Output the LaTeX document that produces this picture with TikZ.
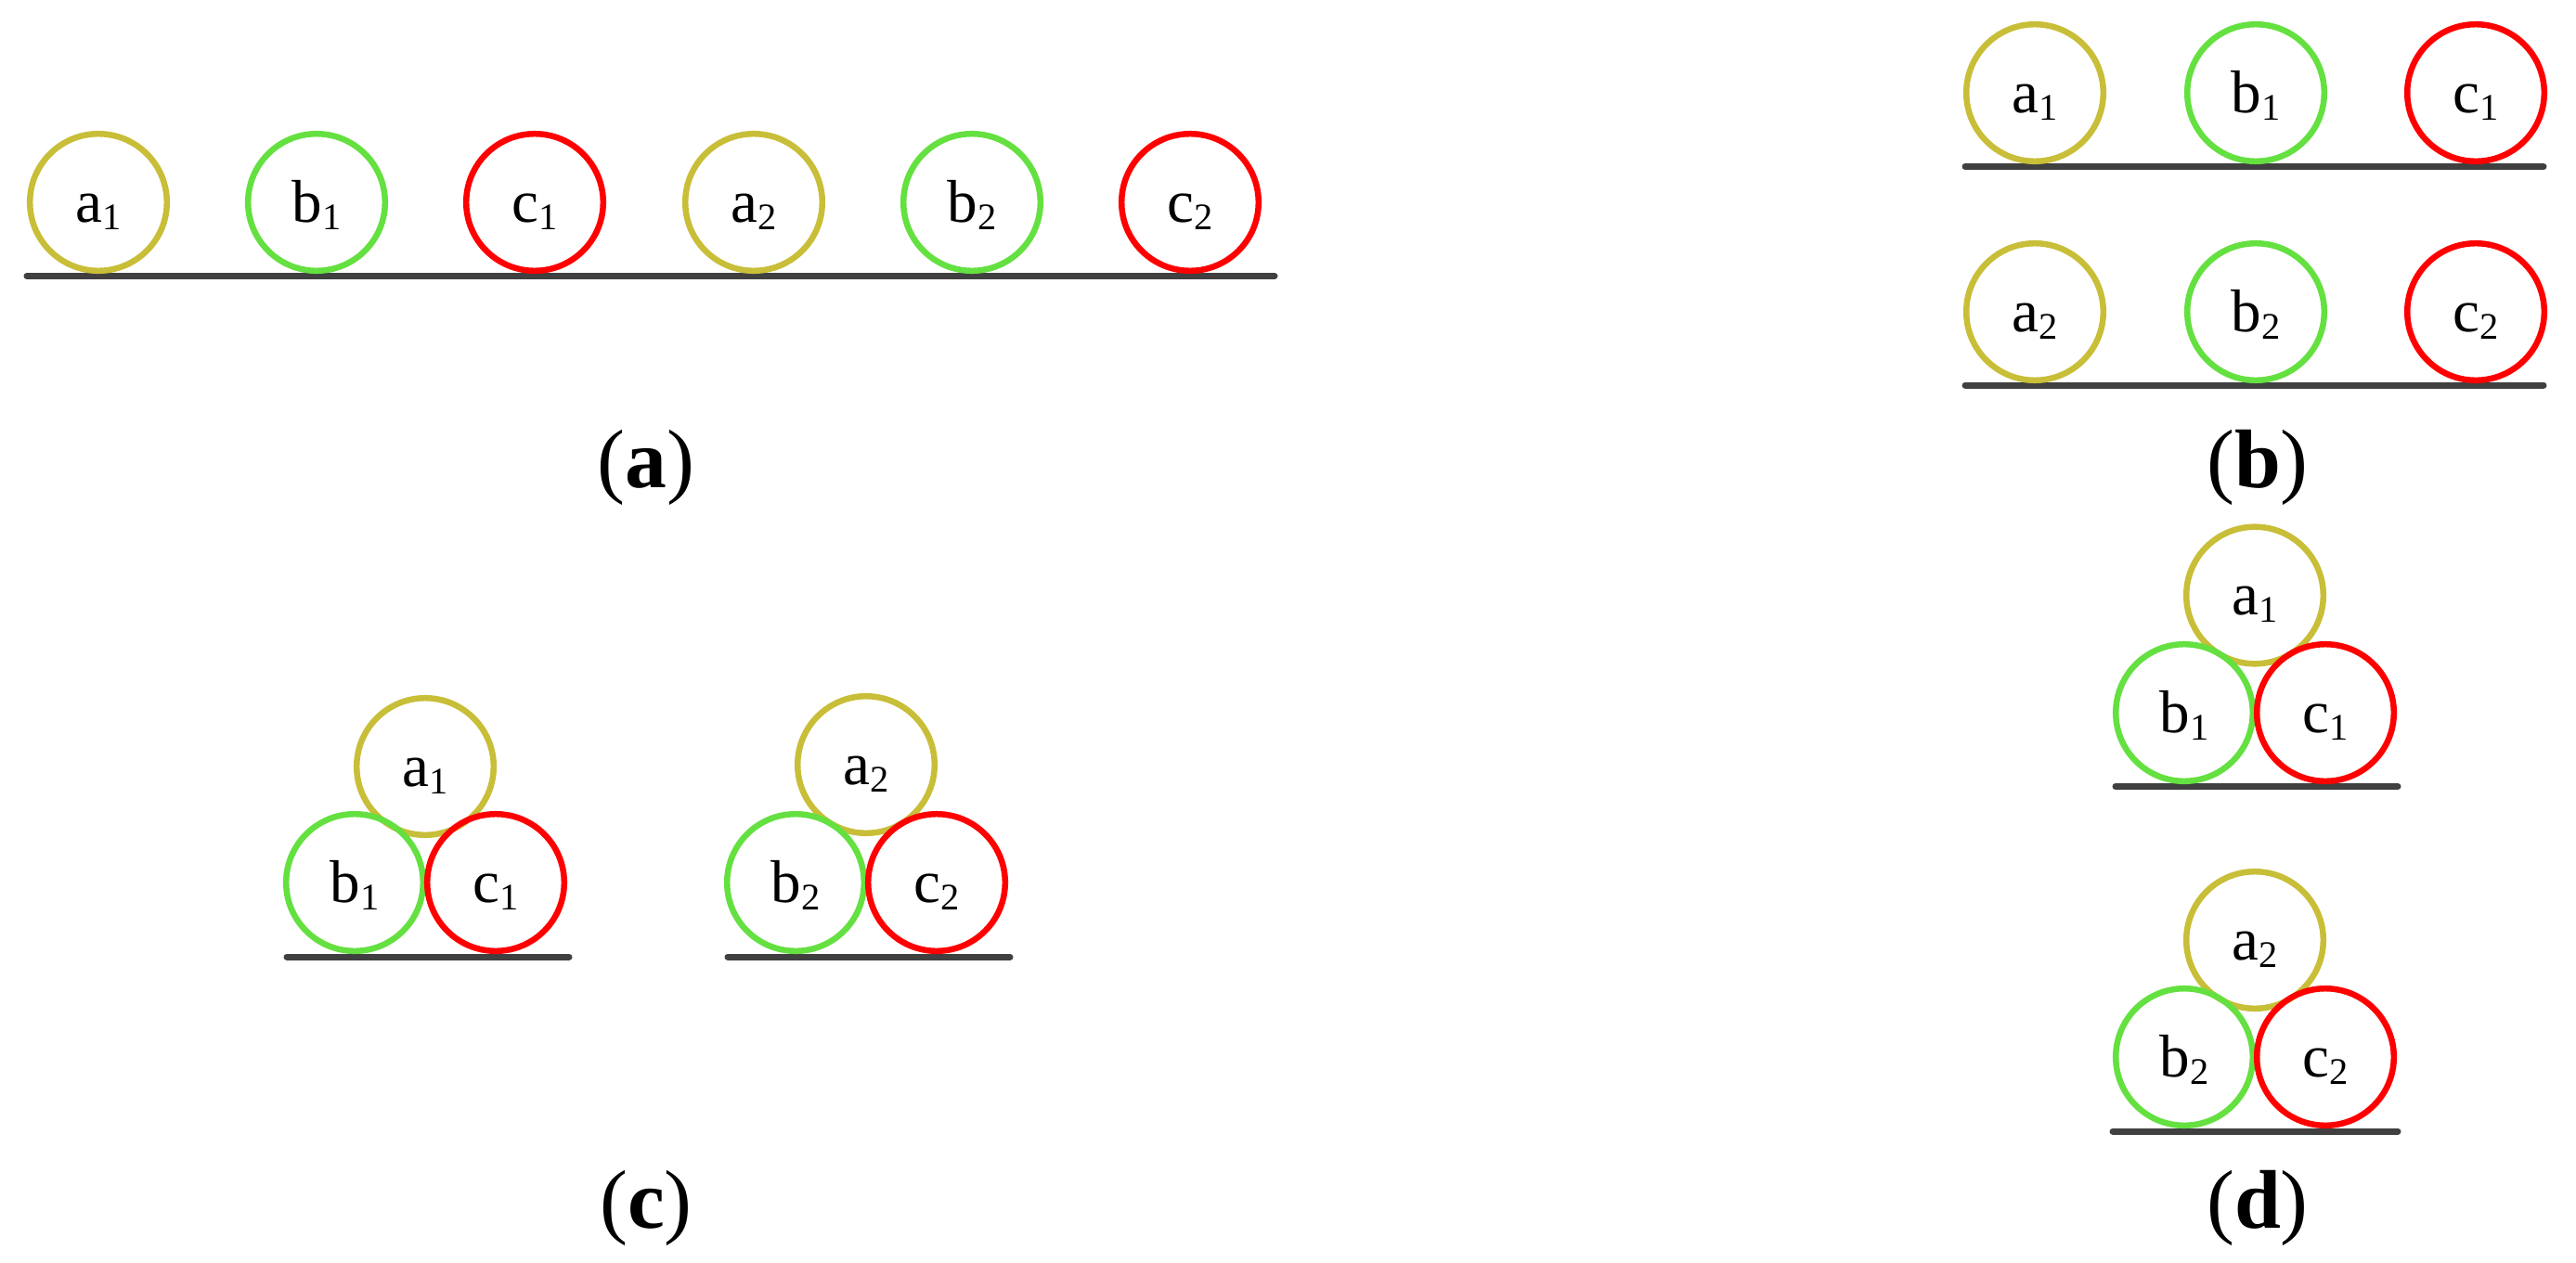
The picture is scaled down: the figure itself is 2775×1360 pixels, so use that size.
\documentclass[tikz,border=0pt]{standalone}
\usepackage{fontspec}
\setmainfont{Liberation Serif}
\definecolor{olive}{RGB}{200,190,56}
\definecolor{leaf}{RGB}{100,224,64}
\definecolor{floor}{RGB}{64,64,64}
\newcommand{\idx}[1]{\raisebox{-2.3pt}{\fontsize{11.5}{13}\selectfont #1}}
\begin{document}
\begin{tikzpicture}[x=0.01cm,y=-0.01cm,
    ball/.style={circle, draw=#1, line width=0.065cm, minimum size=1.475cm,
      inner sep=0pt, text height=0.42cm, text depth=0cm,
      font=\fontsize{18.5}{20}\selectfont},
    ground/.style={floor, line width=0.07cm, line cap=round},
    subcap/.style={anchor=base, font=\fontsize{25.5}{28}\selectfont}]
  \useasboundingbox (0,0) rectangle (2775,1360);
  % (a)
  \draw[ground] (29,297.5) -- (1373,297.5);
  \node (A-a1) at (106,218) [ball=olive] {a\idx{1}};
  \node (A-b1) at (341,218) [ball=leaf] {b\idx{1}};
  \node (A-c1) at (576,218) [ball=red] {c\idx{1}};
  \node (A-a2) at (812,218) [ball=olive] {a\idx{2}};
  \node (A-b2) at (1047,218) [ball=leaf] {b\idx{2}};
  \node (A-c2) at (1282,218) [ball=red] {c\idx{2}};
  \node (capA) at (696,525) [subcap] {(\textbf{a})};
  % (b)
  \draw[ground] (2117,179.5) -- (2740,179.5);
  \draw[ground] (2117,415) -- (2740,415);
  \node (B-a1) at (2192,100) [ball=olive] {a\idx{1}};
  \node (B-b1) at (2430,100) [ball=leaf] {b\idx{1}};
  \node (B-c1) at (2667,100) [ball=red] {c\idx{1}};
  \node (B-a2) at (2192,336) [ball=olive] {a\idx{2}};
  \node (B-b2) at (2430,336) [ball=leaf] {b\idx{2}};
  \node (B-c2) at (2667,336) [ball=red] {c\idx{2}};
  \node (capB) at (2432,525) [subcap] {(\textbf{b})};
  % (c)
  \draw[ground] (309,1031) -- (613,1031);
  \draw[ground] (784,1031) -- (1088,1031);
  \node (C-a1) at (458,826) [ball=olive] {a\idx{1}};
  \node (C-b1) at (382,951) [ball=leaf] {b\idx{1}};
  \node (C-c1) at (534,951) [ball=red] {c\idx{1}};
  \node (C-a2) at (933,824) [ball=olive] {a\idx{2}};
  \node (C-b2) at (857,951) [ball=leaf] {b\idx{2}};
  \node (C-c2) at (1009,951) [ball=red] {c\idx{2}};
  \node (capC) at (696,1323) [subcap] {(\textbf{c})};
  % (d)
  \draw[ground] (2279,847.5) -- (2583,847.5);
  \draw[ground] (2276,1219) -- (2583,1219);
  \node (D-a1) at (2429,641.5) [ball=olive] {a\idx{1}};
  \node (D-b1) at (2353,768) [ball=leaf] {b\idx{1}};
  \node (D-c1) at (2505,768) [ball=red] {c\idx{1}};
  \node (D-a2) at (2429,1013) [ball=olive] {a\idx{2}};
  \node (D-b2) at (2353,1139) [ball=leaf] {b\idx{2}};
  \node (D-c2) at (2505,1139) [ball=red] {c\idx{2}};
  \node (capD) at (2432,1323) [subcap] {(\textbf{d})};
\end{tikzpicture}
\end{document}
